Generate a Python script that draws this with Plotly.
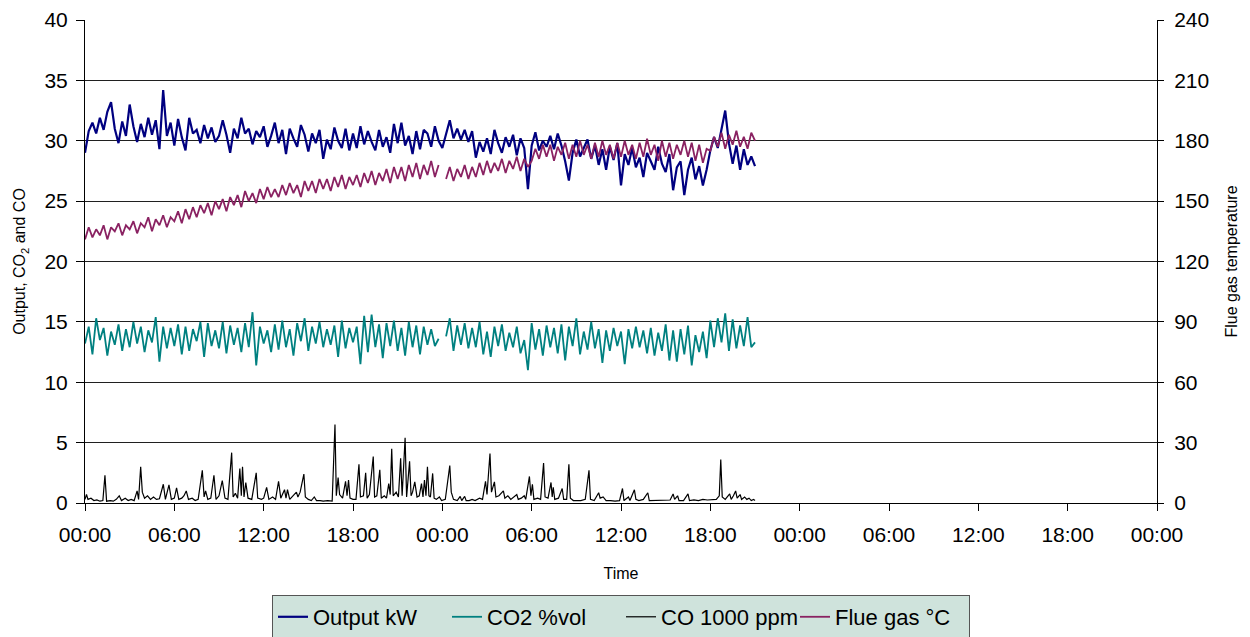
import plotly.graph_objects as go

FONT = "Liberation Sans, Arial, sans-serif"

# time in hours since first 00:00, 15-minute grid
hours = [i * 0.25 for i in range(181)]

output_kw = [
    29.0, 30.8, 31.5, 30.6,  31.9, 30.9, 32.4, 33.2,  31.0, 29.8, 31.6, 30.4,
    33.0, 31.2, 29.9, 31.4,  30.3, 31.9, 30.5, 31.7,  29.3, 34.2, 30.4, 31.5,
    29.6, 31.8, 30.3, 29.2,  31.9, 30.6, 30.9, 29.8,  31.3, 30.2, 31.1, 29.9,
    30.4, 31.7, 30.5, 29.0,  31.0, 30.2, 31.9, 30.6,  31.0, 29.7, 30.8, 30.3,
    31.2, 29.5, 30.4, 31.5,  29.8, 30.9, 28.9, 31.0,  30.2, 29.5, 31.3, 30.5,
    29.1, 30.6, 29.8, 30.9,  28.5, 30.1, 29.3, 31.1,  30.0, 29.4, 31.0, 29.2,
    30.6, 29.4, 31.2, 29.7,  30.8, 29.9, 29.2, 30.9,  29.5, 30.3, 29.0, 31.4,
    29.8, 31.5, 29.6, 30.4,  28.9, 30.8, 29.3, 30.9,  30.6, 29.5, 31.2, 30.0,
    29.4, 30.6, 31.7, 30.2,  31.0, 30.1, 30.9, 29.9,  30.8, 28.6, 29.9, 29.1,
    30.2, 28.9, 30.9, 29.8,  29.0, 30.3, 29.5, 30.5,  28.8, 30.2, 29.4, 26.0,
    29.6, 30.7, 29.2, 30.0,  29.5, 30.4, 29.3, 30.6,  29.6, 28.3, 26.7, 29.0,
    30.1, 28.7, 29.4, 30.1,  28.5, 29.6, 28.0, 29.3,  27.6, 29.5, 28.4, 29.8,
    26.3, 28.9, 28.0, 29.4,  27.8, 28.6, 27.0, 29.0,  28.3, 27.6, 29.5, 28.1,
    27.4, 28.9, 25.9, 27.8,  28.3, 25.5, 27.6, 28.6,  26.8, 27.9, 26.3, 27.6,
    29.2, 30.3, 29.4, 31.0,  32.5, 29.8, 28.1, 29.6,  27.6, 29.3, 28.0, 28.7,
    27.9,
]

co2_vol = [
    13.2, 14.6, 12.3, 15.3,  13.5, 14.5, 12.2, 14.2,  13.1, 14.8, 12.6, 14.4,
    12.9, 15.0, 13.2, 14.6,  12.5, 14.3, 13.3, 15.4,  11.7, 14.6, 12.8, 14.5,
    13.0, 14.8, 12.3, 14.6,  12.6, 14.4, 13.4, 15.0,  12.1, 14.9, 13.0, 14.3,
    12.8, 15.0, 12.4, 14.7,  13.1, 14.5, 12.5, 14.9,  12.9, 15.8, 11.4, 14.6,
    13.2, 14.3, 12.5, 14.8,  12.7, 15.1, 12.9, 14.4,  12.2, 14.9, 13.4, 15.3,
    12.6, 14.6, 13.2, 15.0,  12.9, 14.4, 13.1, 14.7,  12.1, 15.1, 12.8, 14.5,
    13.3, 14.6, 11.5, 15.5,  12.5, 15.6, 12.9, 14.8,  12.0, 14.9, 13.0, 15.1,
    12.6, 14.5, 12.2, 15.0,  12.9, 14.7, 12.3, 14.6,  13.1, 14.4, 13.0, 13.6,
    None, 13.8, 15.3, 12.6,  14.7, 13.1, 14.9, 12.8,  14.5, 12.9, 15.0, 12.3,
    14.2, 12.1, 14.6, 13.0,  14.8, 12.6, 14.1, 12.9,  14.6, 12.4, 13.5, 11.0,
    14.9, 12.7, 14.4, 12.2,  14.7, 12.9, 14.5, 12.4,  14.8, 11.8, 14.6, 13.0,
    15.3, 12.3, 14.2, 12.7,  15.0, 12.8, 14.4, 11.6,  14.3, 12.6, 14.5, 13.0,
    14.2, 11.5, 14.4, 12.8,  14.6, 12.9, 14.3, 12.4,  14.5, 12.2, 14.1, 12.6,
    14.8, 11.8, 14.3, 11.7,  14.4, 12.3, 14.7, 11.4,  13.9, 12.5, 14.2, 12.0,
    15.1, 12.9, 15.3, 13.3,  15.7, 12.6, 15.2, 12.8,  14.7, 13.0, 15.4, 12.9,
    13.3,
]

flue_gas_c = [
    131, 137, 132, 136,  133, 138, 131, 137,  135, 139, 133, 138,
    136, 140, 134, 139,  137, 142, 135, 141,  138, 143, 137, 142,
    140, 145, 139, 146,  141, 147, 142, 148,  144, 149, 143, 150,
    146, 151, 145, 152,  148, 153, 147, 155,  150, 154, 149, 156,
    151, 157, 152, 156,  152, 158, 153, 159,  154, 158, 152, 160,
    155, 160, 154, 161,  156, 161, 155, 162,  157, 163, 156, 162,
    158, 163, 157, 164,  159, 165, 158, 164,  160, 166, 159, 167,
    161, 167, 160, 168,  162, 169, 161, 168,  163, 170, 162, 168,
    None, 161, 167, 160,  166, 162, 168, 161,  167, 162, 169, 163,
    170, 164, 169, 165,  171, 164, 170, 166,  172, 165, 171, 167,
    170, 176, 171, 178,  172, 178, 170, 177,  173, 179, 171, 178,
    172, 180, 173, 178,  171, 179, 172, 180,  173, 178, 171, 179,
    172, 180, 173, 178,  171, 179, 172, 181,  173, 178, 170, 180,
    172, 179, 171, 178,  173, 180, 172, 179,  170, 178, 169, 176,
    175, 182, 177, 184,  176, 183, 178, 185,  177, 182, 176, 184,
    180,
]

co_hours = [
    0.0, 0.1, 0.2, 0.4, 0.6, 0.8, 1.0, 1.2, 1.34, 1.45, 1.7, 1.9, 2.1, 2.3, 2.45,
    2.7, 2.9, 3.1, 3.3, 3.5, 3.6, 3.74, 3.85, 4.0, 4.2, 4.4, 4.6, 4.8, 5.0, 5.26,
    5.4, 5.64, 5.8, 6.0, 6.15, 6.3, 6.5, 6.65, 6.8, 6.95, 7.2, 7.4, 7.6, 7.88, 8.0,
    8.1, 8.25, 8.45, 8.66, 8.8, 9.0, 9.22, 9.4, 9.6, 9.85, 9.95, 10.1, 10.25, 10.4,
    10.5, 10.58, 10.68, 10.8, 10.95, 11.2, 11.5, 11.6, 11.85, 12.0, 12.2, 12.35,
    12.6, 12.8, 13.0, 13.15, 13.4, 13.5, 13.6, 13.75, 14.0, 14.2, 14.3, 14.45, 14.7,
    14.8, 15.0, 15.2, 15.4, 15.55, 15.8, 16.0, 16.3, 16.6, 16.79, 16.88, 17.0, 17.1,
    17.3, 17.5, 17.6, 17.7, 17.8, 18.0, 18.2, 18.4, 18.5, 18.7, 18.85, 18.95, 19.1,
    19.36, 19.45, 19.6, 19.8, 19.9, 20.1, 20.25, 20.4, 20.5, 20.6, 20.7, 20.9, 21.05,
    21.2, 21.3, 21.5, 21.6, 21.8, 21.9, 22.0, 22.15, 22.3, 22.45, 22.6, 22.7, 22.8,
    22.9, 23.0, 23.1, 23.2, 23.35, 23.45, 23.6, 23.8, 23.95, 24.2, 24.5, 24.6, 24.75,
    25.0, 25.2, 25.3, 25.5, 25.6, 25.8, 26.0, 26.2, 26.5, 26.7, 26.9, 27.0, 27.2,
    27.3, 27.5, 27.6, 27.8, 28.1, 28.2, 28.4, 28.6, 28.8, 29.0, 29.1, 29.3, 29.5,
    29.6, 29.85, 29.95, 30.05, 30.15, 30.4, 30.6, 30.8, 30.9, 31.1, 31.3, 31.38,
    31.45, 31.55, 31.8, 32.05, 32.15, 32.35, 32.5, 32.6, 32.8, 33.0, 33.3, 33.6,
    33.85, 33.95, 34.2, 34.5, 34.6, 34.8, 35.0, 35.3, 35.6, 35.9, 36.1, 36.2, 36.5,
    36.6, 36.9, 37.0, 37.2, 37.5, 37.8, 37.9, 38.2, 38.5, 38.8, 39.1, 39.3, 39.5,
    39.6, 39.8, 39.9, 40.2, 40.5, 40.6, 40.9, 41.2, 41.5, 41.8, 42.1, 42.4, 42.6,
    42.7, 42.8, 43.0, 43.3, 43.4, 43.55, 43.7, 43.8, 44.0, 44.1, 44.3, 44.45, 44.6,
    44.75, 44.9, 45.0,
]

co_1000ppm = [
    0.3, 0.7, 0.3, 0.4, 0.2, 0.25, 0.15, 0.2, 2.3, 0.15, 0.2, 0.15, 0.3, 0.6, 0.2,
    0.4, 0.2, 0.3, 0.2, 1.0, 0.3, 3.0, 0.9, 0.4, 0.6, 0.3, 0.5, 0.3, 0.35, 1.55,
    0.3, 1.5, 0.3, 0.4, 1.25, 0.3, 0.4, 0.6, 1.0, 0.3, 0.4, 0.2, 0.3, 2.7, 0.5,
    1.0, 0.3, 0.4, 2.3, 0.3, 0.6, 1.85, 0.4, 0.3, 4.17, 0.5, 0.8, 0.4, 2.85,
    0.6, 3.0, 0.5, 1.7, 0.4, 0.3, 2.5, 0.4, 0.3, 0.4, 1.3, 0.3,
    0.5, 0.3, 1.8, 0.4, 1.1, 0.4, 1.1, 0.3, 0.6, 0.9, 0.5, 0.9, 2.4,
    0.5, 0.3, 0.2, 0.5, 0.2, 0.2, 0.15, 0.2, 0.15, 6.5, 0.6, 2.1, 0.7,
    0.4, 1.8, 0.6, 1.9, 0.4, 0.3, 0.3, 3.2, 0.5, 0.6, 2.5, 0.4, 0.7,
    3.85, 0.5, 0.6, 2.75, 0.4, 0.6, 0.4, 1.6, 0.7, 4.5, 0.6, 0.9, 0.5,
    3.7, 0.6, 5.4, 0.5, 3.45, 0.6, 0.9, 1.75, 0.5, 0.6, 1.6, 0.5, 1.9,
    0.6, 3.0, 0.6, 0.5, 2.45, 0.4, 0.3, 0.5, 0.2, 0.3, 3.1, 0.9, 0.3,
    0.2, 0.55, 0.2, 0.55, 0.2, 0.2, 0.3, 0.2, 0.4, 0.3, 1.8, 0.7, 4.1,
    0.9, 1.75, 0.5, 0.6, 1.0, 0.4, 0.6, 0.3, 0.5, 0.7, 0.3, 0.4, 0.6,
    0.3, 2.2, 0.6, 1.55, 0.3, 0.4, 0.3, 3.3, 0.5, 0.4, 1.7, 0.5,
    1.3, 0.3, 0.4, 1.2, 0.3, 0.3, 3.2, 0.4, 0.2, 0.2, 0.2, 0.3,
    2.7, 0.3, 0.2, 0.85, 0.4, 0.5, 0.2, 0.2, 0.15, 0.2, 1.2, 0.2, 0.5,
    0.2, 1.1, 0.3, 0.2, 0.3, 0.85, 0.2, 0.2, 0.2, 0.25, 0.2, 0.25, 0.75,
    0.3, 0.6, 0.2, 0.2, 0.75, 0.2, 0.25, 0.2, 0.3, 0.25, 0.3, 0.3, 0.6,
    3.6, 0.5, 0.3, 0.75, 0.3, 0.6, 1.0, 0.4, 0.7, 0.3, 0.5, 0.3, 0.4,
    0.2, 0.3, 0.2,
]

x_tick_hours = [0, 6, 12, 18, 24, 30, 36, 42, 48, 54, 60, 66, 72]
x_tick_labels = ["00:00", "06:00", "12:00", "18:00", "00:00", "06:00", "12:00",
                 "18:00", "00:00", "06:00", "12:00", "18:00", "00:00"]

fig = go.Figure()
fig.add_trace(go.Scatter(x=hours, y=output_kw, name="Output kW", mode="lines",
                         line=dict(color="#000080", width=2.2), connectgaps=False))
fig.add_trace(go.Scatter(x=hours, y=co2_vol, name="CO2 %vol", mode="lines",
                         line=dict(color="#008080", width=1.8), connectgaps=False))
fig.add_trace(go.Scatter(x=co_hours, y=co_1000ppm, name="CO 1000 ppm", mode="lines",
                         line=dict(color="#000000", width=1.2)))
fig.add_trace(go.Scatter(x=hours, y=flue_gas_c, name="Flue gas °C", mode="lines",
                         line=dict(color="#8a2262", width=1.8), yaxis="y2",
                         connectgaps=False))

fig.update_layout(
    width=1250, height=637,
    margin=dict(l=85, r=93, t=20, b=134, autoexpand=False),
    paper_bgcolor="white", plot_bgcolor="white",
    font=dict(family=FONT, color="black", size=21),
    xaxis=dict(
        range=[0, 72], tickvals=x_tick_hours, ticktext=x_tick_labels,
        showgrid=False, zeroline=False, automargin=False,
        showline=True, linecolor="black", linewidth=1,
        ticks="outside", ticklen=7, tickcolor="black",
        tickfont=dict(size=21), ticklabelstandoff=6,
        title=dict(text="Time", font=dict(size=16), standoff=22),
    ),
    yaxis=dict(
        range=[0, 40], dtick=5, tick0=0, automargin=False,
        showgrid=True, gridcolor="#202020", gridwidth=1,
        zeroline=False, showline=True, linecolor="black", linewidth=1,
        ticks="outside", ticklen=8, tickcolor="black",
        tickfont=dict(size=21), ticklabelstandoff=4,
        title=dict(text="Output, CO<sub>2</sub> and CO", font=dict(size=16), standoff=14),
    ),
    yaxis2=dict(
        range=[0, 240], dtick=30, tick0=0, overlaying="y", side="right",
        showgrid=False, zeroline=False, automargin=False,
        showline=True, linecolor="black", linewidth=1,
        ticks="outside", ticklen=6, tickcolor="black",
        tickfont=dict(size=21), ticklabelstandoff=6,
        title=dict(text="Flue gas temperature", font=dict(size=16), standoff=17),
    ),
    legend=dict(
        orientation="h", x=0.5, xanchor="center", y=-0.236, yanchor="middle",
        bgcolor="#cfe3dc", bordercolor="#555555", borderwidth=1,
        font=dict(size=22, family=FONT), itemwidth=30, tracegroupgap=0,
        entrywidth=129, entrywidthmode="pixels",
    ),
    showlegend=True,
)

fig.write_html("out.html")
